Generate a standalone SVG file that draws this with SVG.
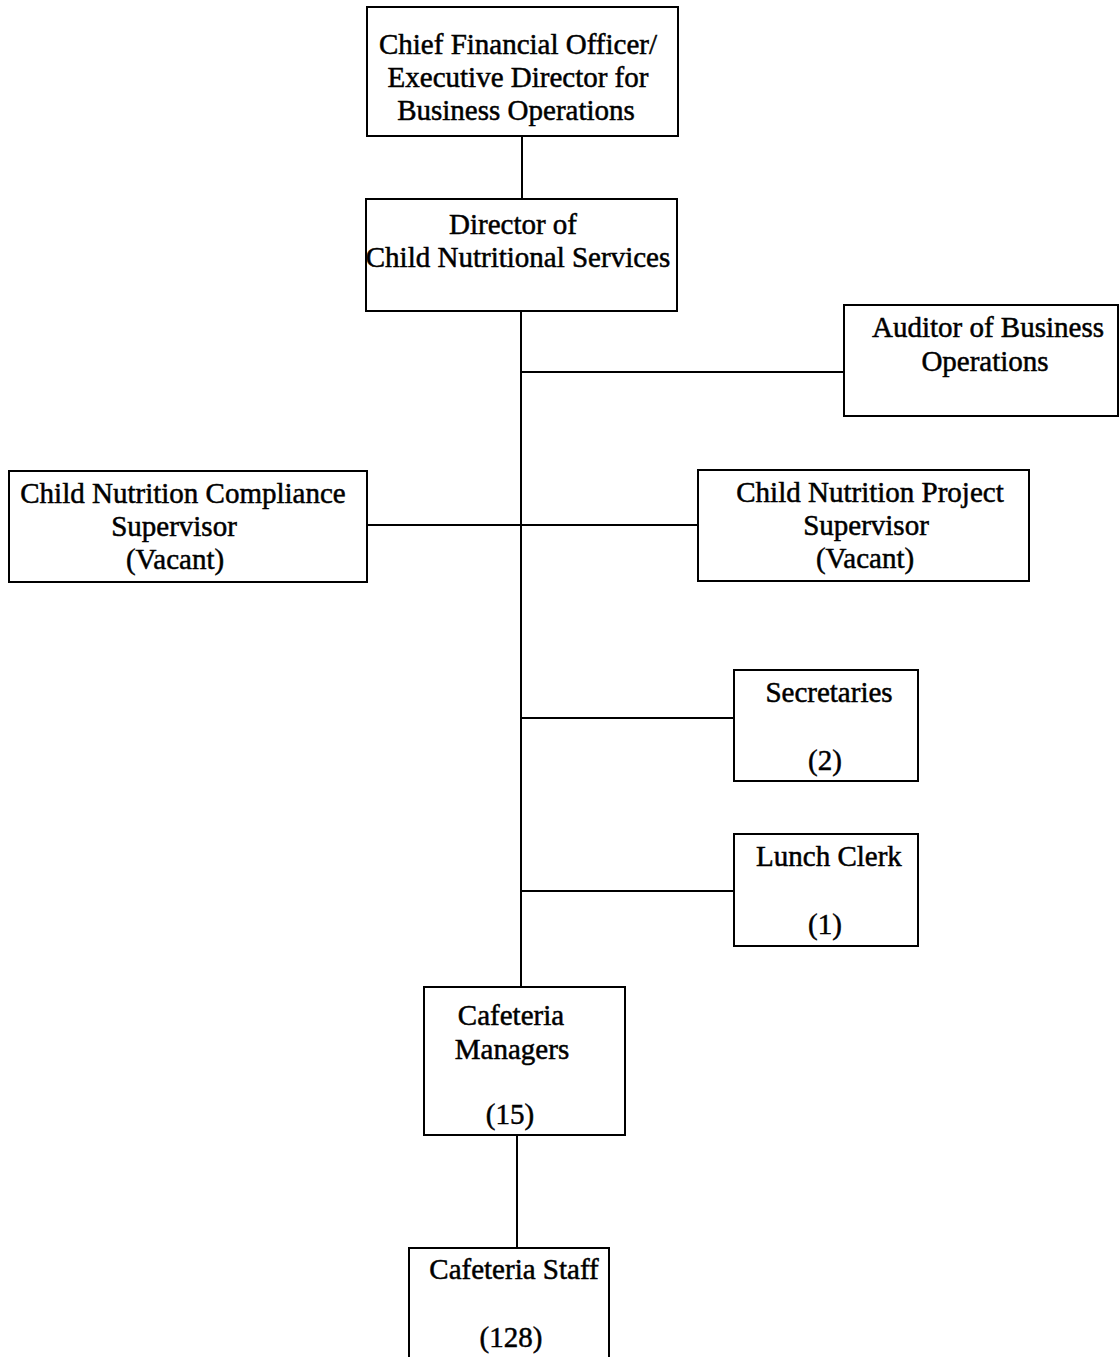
<svg xmlns="http://www.w3.org/2000/svg" width="1120" height="1357" viewBox="0 0 1120 1357">
<style>
rect{fill:#fff;stroke:#000;stroke-width:2}
line{stroke:#000;stroke-width:2}
text{font-family:"Liberation Serif","Times New Roman",serif;font-size:29px;fill:#000;stroke:#000;stroke-width:0.5;text-anchor:middle}
</style>
<rect x="0" y="0" width="1120" height="1357" style="stroke:none"/>
<g id="connectors">
<line x1="522" y1="136" x2="522" y2="199"/>
<line x1="521" y1="311" x2="521" y2="987"/>
<line x1="521" y1="372" x2="844" y2="372"/>
<line x1="367" y1="525" x2="698" y2="525"/>
<line x1="521" y1="718" x2="734" y2="718"/>
<line x1="521" y1="891" x2="734" y2="891"/>
<line x1="517" y1="1135" x2="517" y2="1248"/>
</g>
<g id="cfo">
<rect x="367" y="7" width="311" height="129"/>
<text x="518" y="54">Chief Financial Officer/</text>
<text x="518" y="87">Executive Director for</text>
<text x="516" y="120">Business Operations</text>
</g>
<g id="director">
<rect x="366" y="199" width="311" height="112"/>
<text x="513" y="234">Director of</text>
<text x="518" y="267">Child Nutritional Services</text>
</g>
<g id="auditor">
<rect x="844" y="305" width="274" height="111"/>
<text x="988" y="337">Auditor of Business</text>
<text x="985" y="371">Operations</text>
</g>
<g id="compliance">
<rect x="9" y="471" width="358" height="111"/>
<text x="183" y="503">Child Nutrition Compliance</text>
<text x="174" y="536">Supervisor</text>
<text x="175" y="569">(Vacant)</text>
</g>
<g id="project">
<rect x="698" y="470" width="331" height="111"/>
<text x="870" y="502">Child Nutrition Project</text>
<text x="866" y="535">Supervisor</text>
<text x="865" y="568">(Vacant)</text>
</g>
<g id="secretaries">
<rect x="734" y="670" width="184" height="111"/>
<text x="829" y="702">Secretaries</text>
<text x="825" y="770">(2)</text>
</g>
<g id="lunch">
<rect x="734" y="834" width="184" height="112"/>
<text x="829" y="866">Lunch Clerk</text>
<text x="825" y="934">(1)</text>
</g>
<g id="managers">
<rect x="424" y="987" width="201" height="148"/>
<text x="511" y="1025">Cafeteria</text>
<text x="512" y="1059">Managers</text>
<text x="510" y="1124">(15)</text>
</g>
<g id="staff">
<rect x="409" y="1248" width="200" height="120"/>
<text x="514" y="1279">Cafeteria Staff</text>
<text x="511" y="1347">(128)</text>
</g>
</svg>
